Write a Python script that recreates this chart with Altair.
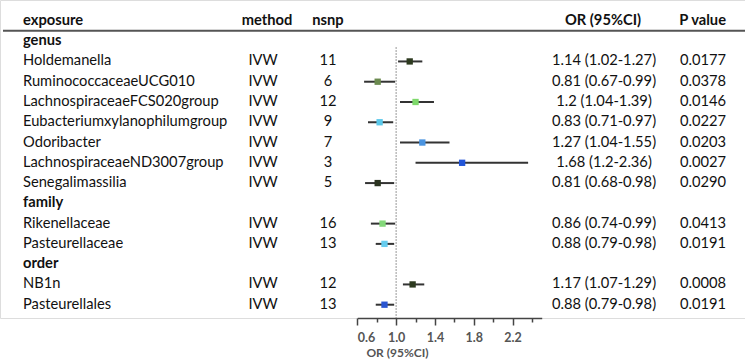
import altair as alt
import pandas as pd

# ---------------- data ----------------
groups = ["genus", "family", "order"]
exposures = ["Holdemanella", "RuminococcaceaeUCG010", "LachnospiraceaeFCS020group",
             "Eubacteriumxylanophilumgroup", "Odoribacter", "LachnospiraceaeND3007group",
             "Senegalimassilia", "Rikenellaceae", "Pasteurellaceae", "NB1n", "Pasteurellales"]
group_of = ["genus"] * 7 + ["family"] * 2 + ["order"] * 2
methods = ["IVW"] * 11
nsnp = [11, 6, 12, 9, 7, 3, 5, 16, 13, 12, 13]
or_est = [1.14, 0.81, 1.2, 0.83, 1.27, 1.68, 0.81, 0.86, 0.88, 1.17, 0.88]
ci_lo = [1.02, 0.67, 1.04, 0.71, 1.04, 1.2, 0.68, 0.74, 0.79, 1.07, 0.79]
ci_hi = [1.27, 0.99, 1.39, 0.97, 1.55, 2.36, 0.98, 0.99, 0.98, 1.29, 0.98]
or_text = ["1.14 (1.02-1.27)", "0.81 (0.67-0.99)", "1.2 (1.04-1.39)", "0.83 (0.71-0.97)",
           "1.27 (1.04-1.55)", "1.68 (1.2-2.36)", "0.81 (0.68-0.98)", "0.86 (0.74-0.99)",
           "0.88 (0.79-0.98)", "1.17 (1.07-1.29)", "0.88 (0.79-0.98)"]
p_text = ["0.0177", "0.0378", "0.0146", "0.0227", "0.0203", "0.0027", "0.0290",
          "0.0413", "0.0191", "0.0008", "0.0191"]
colors = ["#2d3a1f", "#6b8a4f", "#7ed96b", "#5bc8ea", "#4a94e0", "#2255d8",
          "#2a3320", "#84d87a", "#66ccee", "#2d3a1f", "#2a55d0"]
headers = ["exposure", "method", "nsnp", "OR (95%CI)", "P value"]
major_ticks = [0.6, 1.0, 1.4, 1.8, 2.2]
minor_ticks = [0.8, 1.2, 1.6, 2.0, 2.4]
ref_value = 1.0

# ---------------- tables ----------------
grp_rows, item_rows = [], []
r = 0
for g in groups:
    grp_rows.append({"row": r, "label": g})
    r += 1
    for i, e in enumerate(exposures):
        if group_of[i] == g:
            item_rows.append({"row": r, "exposure": e, "method": methods[i],
                              "nsnp": str(nsnp[i]), "or": or_est[i], "lo": ci_lo[i],
                              "hi": ci_hi[i], "ortext": or_text[i], "p": p_text[i],
                              "color": colors[i]})
            r += 1
grp_df = pd.DataFrame(grp_rows)
item_df = pd.DataFrame(item_rows)
head_df = pd.DataFrame({"row": [-1], **{f"h{i}": [h] for i, h in enumerate(headers)}})

FONT = "Lato"
FS = 14.7
W, H = 745, 318

yscale = alt.Scale(domain=[-1, 13], range=[20.9, 304.7])
xscale = alt.Scale(domain=[0.6, 2.5], range=[357.3, 541.7], zero=False, nice=False)
Y = alt.Y("row:Q", scale=yscale, axis=None)

def txt(df, field, xpos, align="left", bold=False):
    return alt.Chart(df).mark_text(
        align=align, baseline="middle", font=FONT, fontSize=FS,
        fontWeight="bold" if bold else "normal", color="#111"
    ).encode(x=alt.value(xpos), y=Y, text=f"{field}:N")

base = alt.Chart(item_df)

ci = base.mark_rule(color="#333333", strokeWidth=2).encode(
    x=alt.X("lo:Q", scale=xscale,
            axis=alt.Axis(values=minor_ticks, orient="bottom", labels=False, domain=False,
                          grid=False, tickSize=4, tickWidth=1.5, tickColor="#444", title="")),
    x2="hi:Q",
    y=Y,
)

sq = base.mark_square(size=40, opacity=1).encode(
    x=alt.X("or:Q", scale=xscale,
            axis=alt.Axis(values=major_ticks, orient="bottom", format=".1f", grid=False,
                          tickSize=7, tickWidth=1.5, tickColor="#444",
                          domainColor="#444", domainWidth=1.5,
                          labelFont=FONT, labelFontSize=12.5, labelFontWeight="bold",
                          labelColor="#555", labelPadding=6,
                          title="OR (95%CI)", titleFont=FONT, titleFontSize=12,
                          titleFontWeight="bold", titleColor="#555",
                          titleX=397, titleY=34, titleAlign="center",
                          titleBaseline="middle", titleAnchor="start")),
    y=Y,
    color=alt.Color("color:N", scale=None),
)

ref = alt.Chart(pd.DataFrame({"v": [ref_value]})).mark_rule(
    color="#777", strokeWidth=1, strokeDash=[1.5, 1.5]
).encode(
    x=alt.X("v:Q", scale=xscale, axis=None),
    y=alt.Y(datum=0.3, scale=yscale, axis=None),
    y2=alt.value(H),
)

hline = alt.Chart(head_df).mark_rule(color="#555", strokeWidth=2).encode(
    x=alt.value(3), x2=alt.value(745), y=alt.Y(datum=-0.52, scale=yscale, axis=None)
)

layers = [
    txt(head_df, "h0", 23, bold=True),
    txt(head_df, "h1", 267, align="center", bold=True),
    txt(head_df, "h2", 328, align="center", bold=True),
    txt(head_df, "h3", 603, align="center", bold=True),
    txt(head_df, "h4", 726, align="right", bold=True),
    hline,
    txt(grp_df, "label", 23, bold=True),
    txt(item_df, "exposure", 23),
    txt(item_df, "method", 263, align="center"),
    txt(item_df, "nsnp", 328, align="center"),
    txt(item_df, "ortext", 604, align="center"),
    txt(item_df, "p", 726, align="right"),
    ref,
    ci,
    sq,
]

chart = alt.layer(*layers).resolve_axis(x="independent").properties(
    width=W, height=H,
    autosize=alt.AutoSizeParams(type="none"),
    padding={"left": 0, "top": 0, "right": 0, "bottom": 42},
).configure_view(stroke=None).configure(background="white")

chart.save("out.html", embed_options={"renderer": "svg", "actions": False})
